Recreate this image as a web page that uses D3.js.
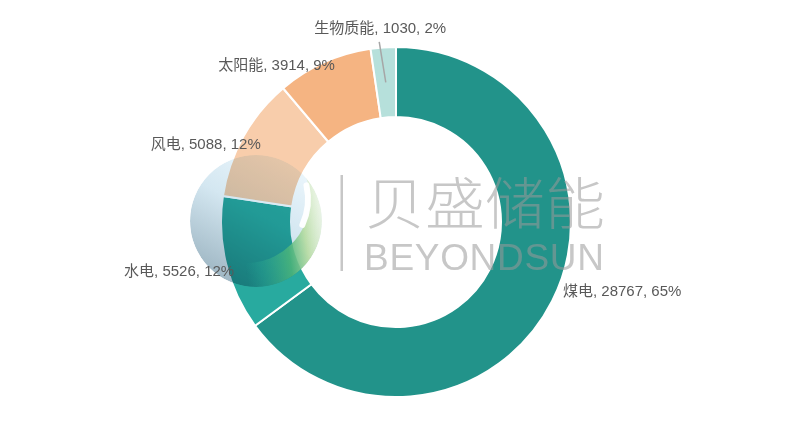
<!DOCTYPE html>
<html><head><meta charset="utf-8">
<script src="https://cdn.jsdelivr.net/npm/d3@7"></script>
<style>body{margin:0;background:#fff}</style>
</head><body><svg id="c" width="792" height="446"></svg>
<script>
const categories = ["煤电", "水电", "风电", "太阳能", "生物质能"];
const values = [28767, 5526, 5088, 3914, 1030];
const percentLabels = ["65%", "12%", "12%", "9%", "2%"];
const colors = ["#22938a", "#28aa9f", "#f8cdab", "#f5b482", "#b6e0db"];
// label nudges relative to each slice's outer-edge mid point
const labelNudge = [[70, -10], [-47, 6], [-37.5, 6.5], [-47.5, 2.5], [-3, -19.5]];

const W = 792, H = 446, cx = 396, cy = 222, rOut = 175, rIn = 105;
const svg = d3.select("#c");
svg.append("rect").attr("width", W).attr("height", H).attr("fill", "#fff");
const defs = svg.append("defs");

const pie = d3.pie().sort(null).value(d => d.v).startAngle(0).endAngle(2 * Math.PI);
const data = categories.map((c, i) => ({c, v: values[i], p: percentLabels[i], col: colors[i], n: labelNudge[i]}));
const arcs = pie(data);
const arc = d3.arc().innerRadius(rIn).outerRadius(rOut);
const g = svg.append("g").attr("transform", `translate(${cx},${cy})`);
g.selectAll("path.slice").data(arcs).join("path").attr("class", "slice")
  .attr("d", arc).attr("fill", d => d.data.col)
  .attr("stroke", "#fff").attr("stroke-width", 2).attr("stroke-linejoin", "round");

// watermark logo
const lcx = 256, lcy = 221, lr = 66, mx = lcx - 10, my = lcy - 22, mr = 64;
const lg = defs.append("linearGradient").attr("id", "sph").attr("x1", 0.75).attr("y1", 0.05).attr("x2", 0.25).attr("y2", 0.95);
lg.append("stop").attr("offset", 0).attr("stop-color", "#ebf6fc");
lg.append("stop").attr("offset", 0.45).attr("stop-color", "#d4e7f1");
lg.append("stop").attr("offset", 1).attr("stop-color", "#9fb7c4");
const lg2 = defs.append("linearGradient").attr("id", "cres").attr("gradientUnits", "userSpaceOnUse")
  .attr("x1", lcx - lr).attr("y1", lcy + 20).attr("x2", lcx + lr).attr("y2", lcy);
[[0, "#23a294", 0], [0.38, "#23a294", 0], [0.5, "#2aa892", 0.4], [0.72, "#4db67a", 0.85], [0.86, "#b7dc9e", 0.85], [1, "#eef6d8", 0.6]]
  .forEach(([o, c, a]) => lg2.append("stop").attr("offset", o).attr("stop-color", c).attr("stop-opacity", a));
defs.append("clipPath").attr("id", "sclip").append("circle").attr("cx", lcx).attr("cy", lcy).attr("r", lr);
const logo = svg.append("g").attr("clip-path", "url(#sclip)").style("mix-blend-mode", "multiply");
logo.append("circle").attr("cx", lcx).attr("cy", lcy).attr("r", lr).attr("fill", "url(#sph)");
const mask = defs.append("mask").attr("id", "cm");
mask.append("rect").attr("x", 0).attr("y", 0).attr("width", W).attr("height", H).attr("fill", "#fff");
mask.append("circle").attr("cx", mx).attr("cy", my).attr("r", mr).attr("fill", "#000");
const logoTop = svg.append("g").attr("clip-path", "url(#sclip)");
logoTop.append("circle").attr("cx", lcx).attr("cy", lcy).attr("r", lr).attr("fill", "url(#cres)").attr("mask", "url(#cm)");
logoTop.append("path")
  .attr("d", d3.arc().innerRadius(mr - 5).outerRadius(mr + 1).startAngle(1.3).endAngle(2.05).cornerRadius(3)())
  .attr("transform", `translate(${mx},${my})`).attr("fill", "#fff").attr("opacity", 0.95);

const wm = svg.append("g").attr("opacity", 0.55).attr("fill", "#9a9a9a");
wm.append("rect").attr("x", 340.5).attr("y", 175).attr("width", 2.5).attr("height", 96);
wm.append("text").attr("x", 365).attr("y", 224).attr("font-family", "'Noto Sans CJK SC'")
  .attr("font-size", 56).attr("font-weight", 300).attr("textLength", 240).attr("lengthAdjust", "spacingAndGlyphs").text("贝盛储能");
wm.append("text").attr("x", 364).attr("y", 270).attr("font-family", "'Liberation Sans', Arial")
  .attr("font-size", 37).attr("textLength", 240).attr("lengthAdjust", "spacing").text("BEYONDSUN");

// labels
const outerPt = d => { const a = (d.startAngle + d.endAngle) / 2; return [Math.sin(a), -Math.cos(a)]; };
const lab = svg.append("g").attr("font-family", "'Liberation Sans', Arial, 'Noto Sans CJK SC'").attr("font-size", 15).attr("fill", "#595959");
arcs.forEach(d => {
  const [ux, uy] = outerPt(d);
  const lx = cx + ux * rOut + d.data.n[0], ly = cy + uy * rOut + d.data.n[1];
  if (d.data.c === "生物质能") {
    svg.append("line").attr("x1", cx + ux * 140).attr("y1", cy + uy * 140)
      .attr("x2", lx - 1).attr("y2", ly + 14).attr("stroke", "#a6a6a6").attr("stroke-width", 1.5);
  }
  lab.append("text").attr("x", lx).attr("y", ly).attr("text-anchor", "middle").attr("dominant-baseline", "central")
    .text(`${d.data.c}, ${d.data.v}, ${d.data.p}`);
});
</script></body></html>
